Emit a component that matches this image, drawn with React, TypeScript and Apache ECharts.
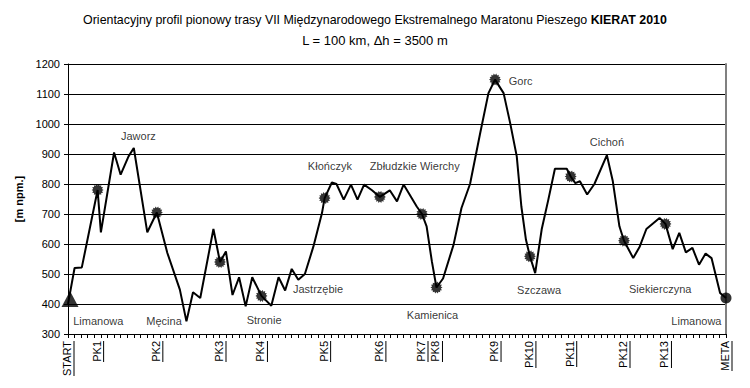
import React, { useEffect, useRef } from "react";
import * as echarts from "echarts";

// Elevation profile: distance (km) and elevation (m a.s.l.)
const profileKm = [
  0, 1.0, 2.1, 4.5, 5.0, 7.0, 8.0, 9.2, 10.0, 12.05, 13.5, 15.1, 17.0, 18.0, 19.0, 20.1,
  22.1, 23.1, 24.0, 25.0, 26.0, 27.0, 28.0, 29.4, 30.9, 32.0, 33.0, 34.0, 35.0, 36.0,
  37.3, 38.6, 39.0, 40.1, 40.8, 41.9, 43.0, 44.0, 45.0, 46.2, 47.4, 48.9, 50.0, 51.0,
  53.0, 53.8, 54.5, 55.3, 56.0, 57.0, 58.6, 59.8, 61.1, 62.6, 63.9, 64.9, 66.2, 67.2,
  68.2, 68.9, 69.6, 70.2, 71.0, 72.0, 73.0, 74.0, 75.8, 76.4, 77.1, 77.8, 78.9, 80.0,
  81.9, 82.8, 83.8, 84.5, 85.9, 86.9, 87.9, 89.9, 90.8, 91.9, 92.9, 93.9, 94.9, 95.9,
  96.9, 97.8, 99.1, 100,
];
const profileElev = [
  400, 520, 522, 780, 639, 905, 831, 892, 920, 639, 705, 570, 448, 342, 439, 420,
  650, 540, 575, 430, 489, 392, 489, 427, 394, 489, 445, 517, 481, 500,
  592, 703, 753, 805, 800, 748, 798, 748, 798, 779, 757, 779, 742, 798,
  725, 700, 659, 542, 455, 485, 598, 720, 800, 965, 1103, 1148, 1103, 1003,
  892, 725, 614, 559, 503, 650, 748, 851, 851, 825, 803, 809, 765, 800,
  896, 809, 659, 611, 553, 592, 650, 687, 667, 583, 637, 572, 587, 531,
  568, 553, 437, 420,
];

// Checkpoints
const checkpointNames = ["PK1", "PK2", "PK3", "PK4", "PK5", "PK6", "PK7", "PK8", "PK9", "PK10", "PK11", "PK12", "PK13"];
const checkpointKm = [4.5, 13.5, 23.1, 29.4, 39.0, 47.4, 53.8, 56.0, 64.9, 70.2, 76.4, 84.5, 90.8];
const checkpointElev = [780, 705, 540, 427, 753, 757, 700, 455, 1148, 559, 825, 611, 667];

const startName = "START";
const startKm = 0;
const startElev = 400;
const metaName = "META";
const metaKm = 100;
const metaElev = 420;

// Place names
const placeNames = ["Jaworz", "Limanowa", "Męcina", "Stronie", "Jastrzębie", "Kłończyk", "Zbłudzkie Wierchy", "Kamienica", "Gorc", "Szczawa", "Cichoń", "Siekierczyna", "Limanowa"];
const placeKm = [10.7, 4.6, 14.6, 29.8, 38.0, 39.8, 52.7, 55.4, 68.8, 71.6, 81.9, 90.0, 95.5];
const placeElev = [961, 345, 345, 348, 450, 859, 859, 364, 1142, 448, 939, 450, 345];

const yMin = 300;
const yMax = 1200;
const yStep = 100;
const xMin = 0;
const xMax = 100;
const xStep = 1;

const FONT = "'Liberation Sans', Arial, sans-serif";

function starPath(): string {
  const n = 14;
  const pts: string[] = [];
  for (let i = 0; i < n * 2; i++) {
    const r = i % 2 === 0 ? 10 : 7.5;
    const a = (Math.PI * i) / n;
    pts.push(`${(10 + r * Math.cos(a)).toFixed(2)} ${(10 + r * Math.sin(a)).toFixed(2)}`);
  }
  return "path://M" + pts.join(" L") + " Z";
}

export default function App() {
  const ref = useRef<HTMLDivElement>(null);
  useEffect(() => {
    document.body.style.margin = "0";
    if (!ref.current) return;
    const chart = echarts.init(ref.current, undefined, { renderer: "svg" });

    const axisKm = [startKm, ...checkpointKm, metaKm];
    const axisNames = [startName, ...checkpointNames, metaName];

    const ctx = document.createElement("canvas").getContext("2d");
    const measure = (s: string) => {
      if (!ctx) return s.length * 7;
      ctx.font = `11px ${FONT}`;
      return ctx.measureText(s).width;
    };
    const rich: Record<string, any> = {
      t: { fontSize: 11, fontFamily: FONT, color: "#000", lineHeight: 12 },
    };
    axisNames.forEach((nm, i) => {
      rich["u" + i] = { width: Math.round(measure(nm)), height: 1, lineHeight: 2, backgroundColor: "#000", fontSize: 1 };
    });

    const option: any = {
      animation: false,
      backgroundColor: "#fff",
      title: {
        left: "center",
        top: 5,
        text: "{n|Orientacyjny profil pionowy trasy VII Międzynarodowego Ekstremalnego Maratonu Pieszego }{b|KIERAT 2010}\n{m|L = 100 km, Δh = 3500 m}",
        textStyle: {
          fontSize: 12,
          fontFamily: FONT,
          fontWeight: "normal",
          color: "#000",
          lineHeight: 20,
          rich: {
            n: { fontSize: 12.4, fontFamily: FONT, color: "#000", fontWeight: "normal", lineHeight: 20 },
            b: { fontSize: 12.4, fontFamily: FONT, color: "#000", fontWeight: "bold", lineHeight: 20 },
            m: { fontSize: 13, fontFamily: FONT, color: "#000", fontWeight: "normal", lineHeight: 20 },
          },
        },
      },
      grid: { left: 68, right: 24, top: 64, bottom: 54, containLabel: false },
      xAxis: {
        type: "value",
        min: xMin,
        max: xMax,
        interval: xStep,
        axisLine: { show: true, lineStyle: { color: "#000", width: 1 } },
        axisTick: { show: true, length: 4, lineStyle: { color: "#000" } },
        splitLine: { show: false },
        axisLabel: {
          customValues: axisKm,
          rotate: 90,
          margin: 7,
          fontSize: 11,
          fontFamily: FONT,
          color: "#000",
          formatter: (v: number) => {
            const i = axisKm.findIndex((k) => Math.abs(k - v) < 1e-6);
            if (i < 0) return "";
            return `{t|${axisNames[i]}}\n{u${i}|}`;
          },
          rich,
        },
      },
      yAxis: [
        {
          type: "value",
          min: yMin,
          max: yMax,
          interval: yStep,
          name: "[m npm.]",
          nameLocation: "middle",
          nameGap: 37,
          nameTextStyle: { fontSize: 11, fontFamily: FONT, fontWeight: "bold", color: "#000" },
          axisLine: { show: true, lineStyle: { color: "#000", width: 1 } },
          axisTick: { show: true, length: 4, lineStyle: { color: "#000" } },
          axisLabel: { fontSize: 11, fontFamily: FONT, color: "#000", margin: 8, formatter: (v: number) => String(v) },
          splitLine: { show: true, lineStyle: { color: "#000", width: 1 } },
        },
        {
          type: "value",
          position: "right",
          axisLine: { show: true, lineStyle: { color: "#808080", width: 2 } },
          axisTick: { show: false },
          axisLabel: { show: false },
          splitLine: { show: false },
        },
      ],
      series: [
        {
          type: "line",
          data: profileKm.map((k, i) => [k, profileElev[i]]),
          showSymbol: false,
          symbol: "none",
          lineStyle: { color: "#000", width: 2 },
          z: 2,
          clip: false,
        },
        {
          type: "scatter",
          data: checkpointKm.map((k, i) => [k, checkpointElev[i]]),
          symbol: starPath(),
          symbolSize: 12,
          itemStyle: { color: "#000" },
          z: 3,
        },
        {
          type: "scatter",
          data: [[startKm, startElev]],
          symbol: "triangle",
          symbolSize: [17, 16],
          symbolOffset: [2, -5],
          itemStyle: { color: "#000" },
          z: 3,
          clip: false,
        },
        {
          type: "scatter",
          data: [[metaKm, metaElev]],
          symbol: "circle",
          symbolSize: 11,
          itemStyle: { color: "#000" },
          z: 3,
          clip: false,
        },
        {
          type: "scatter",
          data: placeKm.map((k, i) => ({ value: [k, placeElev[i]], name: placeNames[i] })),
          symbolSize: 0,
          itemStyle: { color: "transparent" },
          label: {
            show: true,
            position: "inside",
            formatter: (p: any) => p.name,
            fontSize: 11,
            fontFamily: FONT,
            color: "#000",
          },
          z: 4,
        },
      ],
    };
    chart.setOption(option);
    return () => chart.dispose();
  }, []);
  return (
    <div
      ref={ref}
      style={{ position: "absolute", left: 0, top: 0, width: 750, height: 388, background: "#fff" }}
    />
  );
}
